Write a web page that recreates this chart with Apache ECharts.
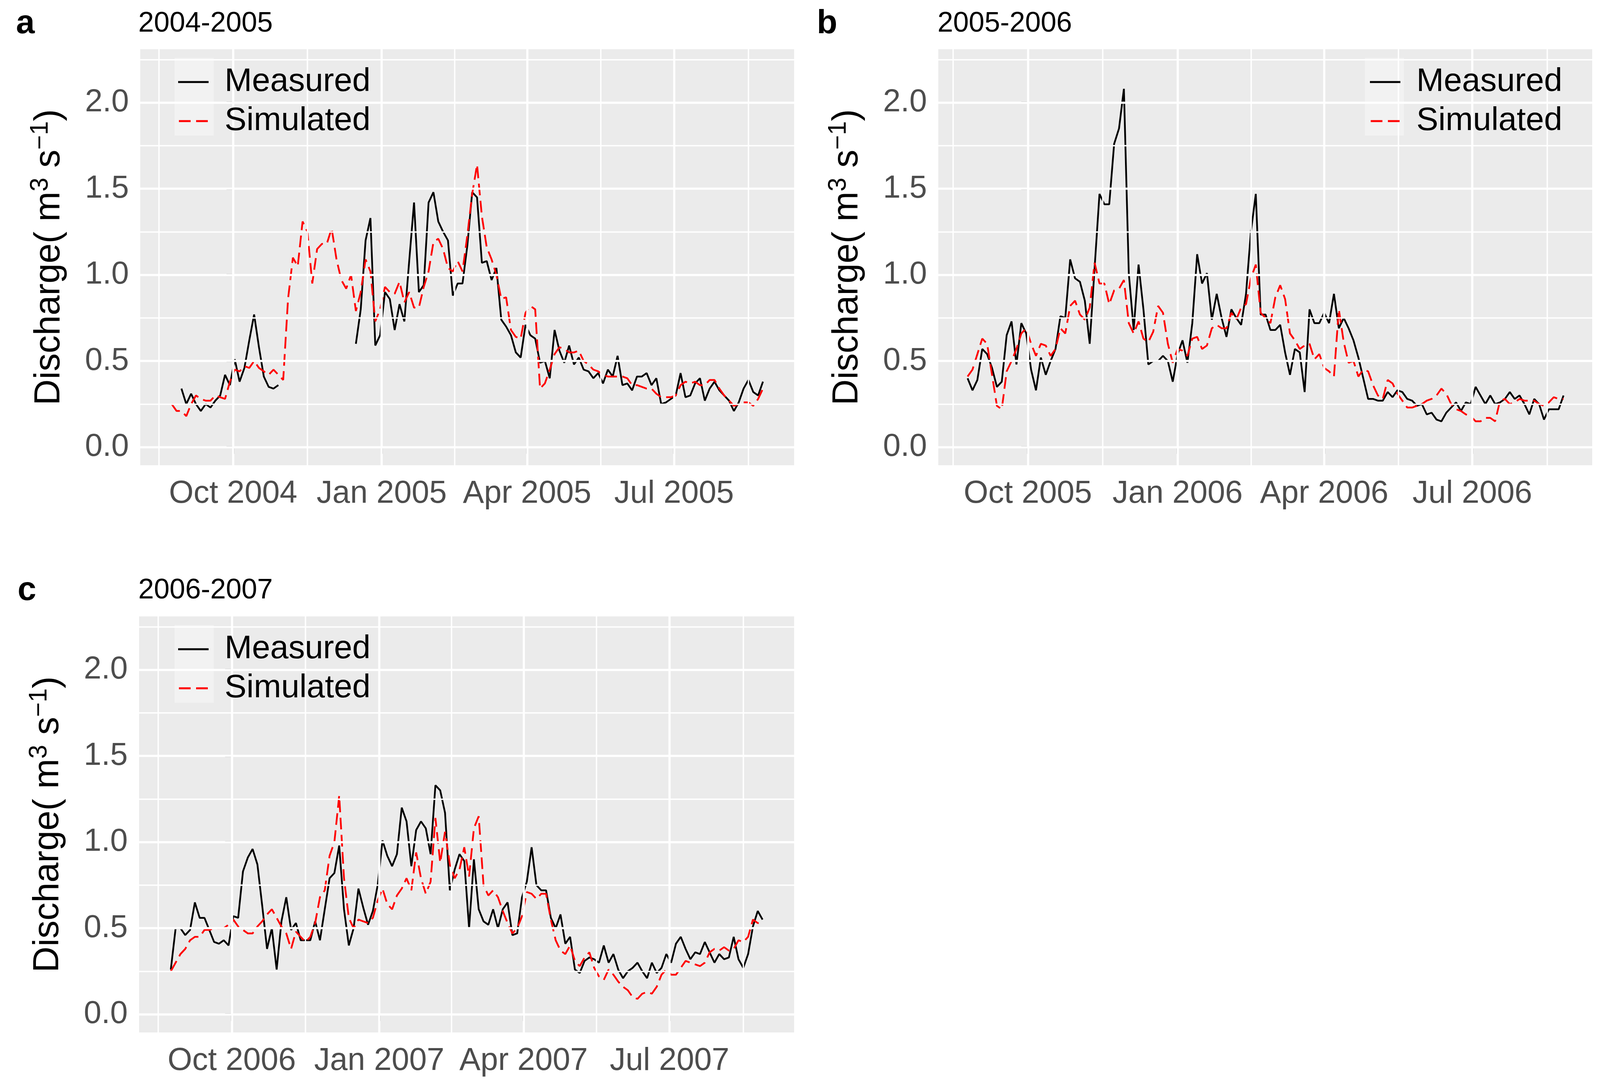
<!DOCTYPE html>
<html>
<head>
<meta charset="utf-8">
<script src="https://cdn.jsdelivr.net/npm/echarts@6/dist/echarts.min.js"></script>
<style>html,body{margin:0;padding:0;background:#fff}#chart{width:4113px;height:2775px}</style>
</head>
<body>
<div id="chart"></div>
<script>
// x values are days relative to 1 October of the first year of each panel
const STEP = 3;
const startA = -38, startB = -37, startC = -38;

const measuredA = [null,null,0.34,0.25,0.31,0.25,0.21,0.25,0.23,0.27,
0.30,0.42,0.36,0.51,0.38,0.46,0.62,0.77,0.58,0.41,
0.35,0.34,0.36,null,null,null,null,null,null,null,
null,null,null,null,null,null,null,null,0.60,0.80,
1.20,1.33,0.59,0.65,0.90,0.86,0.68,0.83,0.73,1.08,
1.42,0.90,0.94,1.42,1.48,1.31,1.25,1.20,0.88,0.95,
0.95,1.17,1.48,1.45,1.07,1.08,0.97,1.04,0.74,0.70,
0.65,0.55,0.52,0.71,0.65,0.63,0.49,0.50,0.40,0.68,
0.56,0.49,0.59,0.48,0.52,0.45,0.44,0.40,0.43,0.37,
0.45,0.41,0.53,0.36,0.37,0.33,0.41,0.41,0.43,0.36,
0.40,0.25,0.26,0.28,0.30,0.43,0.29,0.30,0.37,0.40,
0.27,0.34,0.38,0.33,0.30,0.27,0.21,0.26,0.34,0.39,
0.32,0.30,0.38];
const simulatedA = [0.25,0.21,0.21,0.18,0.25,0.30,0.28,0.27,0.27,0.30,
0.29,0.28,0.38,0.45,0.44,0.47,0.46,0.50,0.46,0.44,
0.42,0.45,0.42,0.39,0.86,1.10,1.05,1.31,1.25,0.95,
1.15,1.18,1.18,1.27,1.09,0.97,0.92,1.00,0.79,0.90,
1.09,1.02,0.73,0.80,0.93,0.90,0.89,0.96,0.84,0.90,
0.81,0.81,0.93,1.02,1.19,1.21,1.15,1.04,1.02,1.08,
1.02,1.23,1.47,1.64,1.34,1.16,1.09,1.00,0.86,0.87,
0.68,0.64,0.63,0.78,0.82,0.80,0.34,0.37,0.45,0.54,
0.58,0.57,0.55,0.55,0.56,0.50,0.48,0.45,0.44,0.42,
0.41,0.41,0.41,0.41,0.40,0.36,0.36,0.35,0.34,0.34,
0.31,0.29,0.29,0.29,0.30,0.36,0.38,0.37,0.38,0.36,
0.36,0.39,0.39,0.34,0.30,0.27,0.24,0.25,0.26,0.26,
0.24,0.28,0.34];

const measuredB = [0.40,0.33,0.39,0.57,0.54,0.46,0.35,0.38,0.65,0.73,
0.48,0.72,0.66,0.45,0.33,0.52,0.42,0.50,0.57,0.76,
0.75,1.09,0.98,0.96,0.85,0.60,1.04,1.47,1.41,1.41,
1.76,1.85,2.08,1.01,0.68,1.06,0.80,0.48,0.50,0.50,
0.53,0.50,0.38,0.54,0.62,0.49,0.72,1.12,0.95,1.01,
0.74,0.89,0.75,0.64,0.80,0.75,0.71,0.89,1.25,1.47,
0.77,0.77,0.68,
0.68,0.71,0.55,0.42,0.57,0.55,0.32,0.80,0.72,0.72,
0.78,0.72,0.89,0.69,0.75,0.69,0.62,0.52,0.40,0.28,
0.28,0.27,0.27,0.32,0.29,0.33,0.32,0.28,0.27,0.24,
0.25,0.19,0.20,0.16,0.15,0.20,0.23,0.26,0.21,0.26,
0.25,0.35,0.30,0.25,0.30,0.25,0.26,0.28,0.32,0.28,
0.30,0.25,0.19,0.28,0.25,0.16,0.22,0.22,0.22,0.30];
const simulatedB = [0.41,0.45,0.54,0.63,0.60,0.42,0.24,0.22,0.44,0.50,
0.57,0.66,0.69,0.60,0.53,0.60,0.59,0.53,0.57,0.69,
0.66,0.82,0.85,0.77,0.74,0.81,1.07,0.95,0.95,0.83,
0.91,0.92,0.97,0.72,0.66,0.73,0.63,0.61,0.67,0.82,
0.78,0.60,0.49,0.57,0.56,0.53,0.63,0.64,0.57,0.59,
0.69,0.71,0.69,0.69,0.78,0.74,0.81,0.83,0.98,1.06,
0.78,0.75,0.72,
0.87,0.94,0.86,0.66,0.62,0.57,0.59,0.60,0.51,0.54,
0.46,0.44,0.41,0.80,0.61,0.49,0.50,0.41,0.45,0.44,
0.36,0.30,0.28,0.39,0.37,0.31,0.27,0.23,0.23,0.24,
0.25,0.27,0.28,0.30,0.34,0.31,0.25,0.22,0.21,0.19,
0.18,0.15,0.15,0.17,0.17,0.15,0.27,0.28,0.25,0.26,
0.28,0.27,0.27,0.27,0.25,0.24,0.26,0.29,0.28,0.28];

const measuredC = [0.26,0.50,0.50,0.46,0.49,0.65,0.56,0.56,0.49,0.42,
0.41,0.43,0.40,0.57,0.56,0.83,0.91,0.96,0.87,0.63,
0.38,0.50,0.26,0.54,0.68,0.49,0.53,0.43,0.43,0.43,
0.54,0.43,0.61,0.79,0.82,0.98,0.61,0.40,0.50,0.73,
0.62,0.52,0.60,0.75,1.01,0.92,0.86,0.93,1.20,1.12,
0.86,1.07,1.12,1.08,0.93,1.33,1.30,1.17,0.72,0.84,
0.93,0.89,0.50,
0.90,0.61,0.54,0.52,0.61,0.50,0.61,0.65,0.46,0.47,
0.68,0.77,0.97,0.75,0.72,0.72,0.56,0.50,0.58,0.41,
0.45,0.26,0.24,0.31,0.33,0.32,0.30,0.40,0.30,0.35,
0.26,0.21,0.25,0.27,0.30,0.25,0.21,0.30,0.24,0.27,
0.35,0.30,0.41,0.45,0.38,0.32,0.36,0.35,0.42,0.36,
0.30,0.35,0.32,0.33,0.45,0.32,0.27,0.35,0.51,0.60,
0.55];
const simulatedC = [0.25,0.30,0.35,0.38,0.43,0.45,0.45,0.49,0.49,0.50,
0.50,0.50,0.52,0.55,0.51,0.49,0.47,0.47,0.51,0.54,
0.58,0.61,0.56,0.51,0.47,0.38,0.48,0.45,0.42,0.45,
0.53,0.68,0.72,0.92,1.00,1.27,0.79,0.56,0.50,0.55,
0.54,0.53,0.56,0.66,0.73,0.64,0.61,0.69,0.73,0.79,
0.72,0.94,0.79,0.70,0.77,1.14,0.88,1.06,0.87,0.79,
0.84,0.97,0.80,
1.08,1.15,0.75,0.69,0.72,0.68,0.60,0.53,0.47,0.50,
0.57,0.71,0.70,0.67,0.70,0.70,0.55,0.43,0.37,0.35,
0.40,0.31,0.28,0.33,0.36,0.27,0.22,0.20,0.26,0.23,
0.19,0.16,0.14,0.10,0.09,0.12,0.13,0.12,0.16,0.23,
0.26,0.23,0.23,0.27,0.31,0.30,0.29,0.28,0.30,0.36,
0.38,0.37,0.39,0.37,0.38,0.43,0.42,0.45,0.55,0.53,
0.53];

const tickDays = [0, 92, 182, 273];
const ticksA = ['Oct 2004', 'Jan 2005', 'Apr 2005', 'Jul 2005'];
const ticksB = ['Oct 2005', 'Jan 2006', 'Apr 2006', 'Jul 2006'];
const ticksC = ['Oct 2006', 'Jan 2007', 'Apr 2007', 'Jul 2007'];
const minorDays = [-46, 46, 137, 227.5, 319];
const yTicks = [0, 0.5, 1, 1.5, 2];
const yMinor = [0.25, 0.75, 1.25, 1.75, 2.25];
const titles = ['2004-2005', '2005-2006', '2006-2007'];
const letters = ['a', 'b', 'c'];
const seriesNames = ['Measured', 'Simulated'];

const FF = "'Liberation Sans', Arial, sans-serif";

const panels = [
  {grid: {left: 359, top: 126, width: 1674, height: 1065}, xMin: -57.5, xMax: 347.3,
   start: startA, m: measuredA, s: simulatedA, ticks: ticksA,
   legendLeft: 456, legendTop: 160, keyX: 447, keyY: 148,
   letterX: 41, titleX: 354, textY: 61},
  {grid: {left: 2402, top: 126, width: 1674, height: 1065}, xMin: -55.0, xMax: 346.6,
   start: startB, m: measuredB, s: simulatedB, ticks: ticksB,
   legendLeft: 3507, legendTop: 160, keyX: 3494, keyY: 148,
   letterX: 2091, titleX: 2400, textY: 61},
  {grid: {left: 356, top: 1578, width: 1677, height: 1065}, xMin: -57.8, xMax: 350.7,
   start: startC, m: measuredC, s: simulatedC, ticks: ticksC,
   legendLeft: 456, legendTop: 1612, keyX: 447, keyY: 1600,
   letterX: 45, titleX: 354, textY: 1512}
];

function pairs(start, arr) {
  return arr.map((v, i) => [start + i * STEP, v]);
}

const option = {
  backgroundColor: '#ffffff',
  animation: false,
  grid: [], xAxis: [], yAxis: [], series: [], legend: [], graphic: []
};

panels.forEach((p, i) => {
  option.grid.push(Object.assign({show: true, backgroundColor: '#EBEBEB', borderWidth: 0, containLabel: false}, p.grid));
  const tickLabels = p.ticks;
  option.xAxis.push({
    type: 'value', gridIndex: i, min: p.xMin, max: p.xMax,
    axisLine: {show: false},
    axisTick: {show: true, customValues: tickDays, length: 17, lineStyle: {color: '#333333', width: 4.5}},
    axisLabel: {customValues: tickDays, formatter: v => tickLabels[tickDays.indexOf(v)] || '',
      fontSize: 81, lineHeight: 80, color: '#4D4D4D', fontFamily: FF, margin: 34},
    splitLine: {show: false}
  });
  option.yAxis.push({
    type: 'value', gridIndex: i, min: -0.105, max: 2.31,
    axisLine: {show: false},
    axisTick: {show: true, customValues: yTicks, length: 17, lineStyle: {color: '#333333', width: 4.5}},
    axisLabel: {customValues: yTicks, formatter: v => v.toFixed(1), fontSize: 81, color: '#4D4D4D',
      fontFamily: FF, margin: 29, padding: [16, 0, 0, 0]},
    splitLine: {show: false},
    name: '{m|Discharge( m}{s|3}{m| s}{s|\u22121}{m|)}',
    nameLocation: 'middle', nameRotate: 90, nameGap: 177,
    nameTextStyle: {fontSize: 92, fontFamily: FF, color: '#000',
      rich: {
        m: {fontSize: 92, lineHeight: 110, fontFamily: FF, color: '#000'},
        s: {fontSize: 64, lineHeight: 28, verticalAlign: 'top', fontFamily: FF, color: '#000'}
      }}
  });
  const gl = [];
  tickDays.forEach(d => gl.push({xAxis: d, lineStyle: {color: '#ffffff', width: 5.5, type: 'solid'}}));
  minorDays.forEach(d => { if (d > p.xMin && d < p.xMax) gl.push({xAxis: d, lineStyle: {color: '#ffffff', width: 3.5, type: 'solid'}}); });
  yTicks.forEach(v => gl.push({yAxis: v, lineStyle: {color: '#ffffff', width: 5.5, type: 'solid'}}));
  yMinor.forEach(v => gl.push({yAxis: v, lineStyle: {color: '#ffffff', width: 3.5, type: 'solid'}}));
  option.series.push({
    name: '_grid' + i, type: 'line', xAxisIndex: i, yAxisIndex: i, data: [], z: 1, silent: true,
    markLine: {silent: true, symbol: ['none', 'none'], animation: false, label: {show: false},
      emphasis: {disabled: true}, data: gl}
  });
  option.series.push({
    name: seriesNames[0], type: 'line', xAxisIndex: i, yAxisIndex: i, data: pairs(p.start, p.m),
    symbol: 'none', showSymbol: false, connectNulls: false, z: 3,
    lineStyle: {color: '#000000', width: 4.5}, itemStyle: {color: '#000000'}
  });
  option.series.push({
    name: seriesNames[1], type: 'line', xAxisIndex: i, yAxisIndex: i, data: pairs(p.start, p.s),
    symbol: 'none', showSymbol: false, connectNulls: false, z: 4,
    lineStyle: {color: '#FF0000', width: 4.5, type: [30, 14]}, itemStyle: {color: '#FF0000'}
  });
  option.legend.push({
    left: p.legendLeft, top: p.legendTop, orient: 'vertical', padding: 0,
    itemWidth: 78, itemHeight: 5, itemGap: 0, selectedMode: false, z: 6,
    data: [
      {name: seriesNames[0], icon: 'rect', itemStyle: {color: '#000000', borderWidth: 0}},
      {name: seriesNames[1], icon: 'path://M0,0 H30 V5 H0 Z M44,0 H74 V5 H44 Z',
       itemStyle: {color: '#FF0000', borderWidth: 0}}
    ],
    textStyle: {fontSize: 84, lineHeight: 100, color: '#000', fontFamily: FF, padding: [0, 0, 0, 36]}
  });
  option.graphic.push({type: 'rect', silent: true, z: 2,
    shape: {x: p.keyX, y: p.keyY, width: 100, height: 199}, style: {fill: '#F2F2F2'}});
  option.graphic.push({type: 'text', silent: true, z: 6, x: p.letterX, y: p.textY,
    style: {text: letters[i], fontSize: 86, fontWeight: 'bold', fontFamily: FF, fill: '#000',
      verticalAlign: 'middle', textVerticalAlign: 'middle'}});
  option.graphic.push({type: 'text', silent: true, z: 6, x: p.titleX, y: p.textY,
    style: {text: titles[i], fontSize: 72, fontFamily: FF, fill: '#000',
      verticalAlign: 'middle', textVerticalAlign: 'middle'}});
});

const chart = echarts.init(document.getElementById('chart'), null, {renderer: 'canvas', width: 4113, height: 2775});
chart.setOption(option);
</script>
</body>
</html>
